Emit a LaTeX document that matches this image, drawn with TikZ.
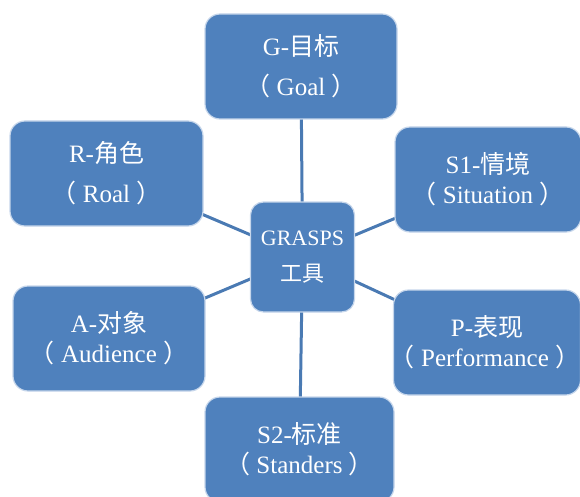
\documentclass[tikz,border=0pt]{standalone}
\usepackage{fontspec}
\setmainfont{Liberation Serif}
\newfontfamily\cjk{Noto Sans CJK SC}
\newcommand{\lp}{{\cjk （}\hspace{0.25em}}
\newcommand{\rp}{\hspace{0.25em}{\cjk ）}}
\usetikzlibrary{backgrounds}
\definecolor{boxblue}{HTML}{4F81BD}
\definecolor{boxedge}{HTML}{C6D6EB}
\definecolor{linkblue}{HTML}{4A7AB3}
\tikzset{
  gbox/.style={draw=boxedge, line width=1.2pt, fill=boxblue, rounded corners=15pt,
    text=white, align=center, inner sep=0pt},
  wide/.style={font=\fontsize{25}{40}\selectfont},
  tight/.style={font=\fontsize{25}{30}\selectfont},
  link/.style={draw=linkblue, line width=3pt}
}
\begin{document}
\begin{tikzpicture}[x=1pt,y=-1pt]
\useasboundingbox (0,0) rectangle (580,497);
\node[gbox,wide,minimum width=192pt,minimum height=105pt] (G) at (301,66.5)
  {G-{\cjk 目标}\\\lp Goal\rp};
\node[gbox,wide,minimum width=193pt,minimum height=105pt] (R) at (106.5,173.5)
  {R-{\cjk 角色}\\\lp Roal\rp};
\node[gbox,tight,minimum width=186pt,minimum height=105pt] (S1) at (488,179.5)
  {S1-{\cjk 情境}\\\lp Situation\rp};
\node[gbox,tight,minimum width=187pt,minimum height=105pt] (P) at (487,342.5)
  {P-{\cjk 表现}\\\kern-4pt\lp Performance\rp};
\node[gbox,tight,minimum width=192pt,minimum height=105pt] (A) at (109,338.5)
  {A-{\cjk 对象}\\\lp Audience\rp};
\node[gbox,tight,minimum width=189pt,minimum height=105pt] (S2) at (299.5,449.5)
  {S2-{\cjk 标准}\\\lp Standers\rp};
\node[gbox,font=\fontsize{22}{36}\selectfont,minimum width=104pt,minimum height=110pt,rounded corners=13pt] (C) at (302.5,257)
  {GRASPS\\{\cjk 工具}};
\begin{scope}[on background layer]
  \draw[link] (G.center) -- (C.center);
  \draw[link] (S2.center) -- (C.center);
  \draw[link] (R.center) -- (C.center);
  \draw[link] (S1.center) -- (C.center);
  \draw[link] (A.center) -- (C.center);
  \draw[link] (P.center) -- (C.center);
\end{scope}
\end{tikzpicture}
\end{document}
